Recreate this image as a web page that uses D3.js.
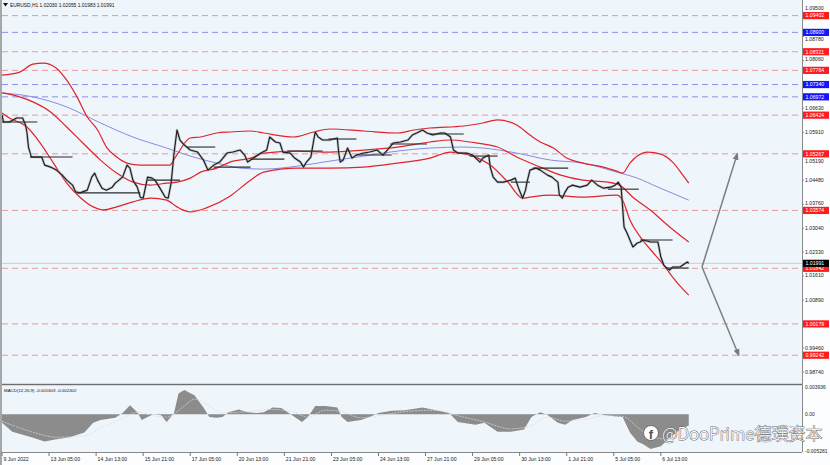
<!DOCTYPE html>
<html><head><meta charset="utf-8">
<script src="https://cdn.jsdelivr.net/npm/d3@7"></script>
<style>
html,body{margin:0;padding:0;background:#fff;}
svg{display:block;font-family:"Liberation Sans",Arial,sans-serif;}
</style></head><body>
<svg id="c" width="830" height="465"></svg>
<script>
// ---------------- DATA ----------------
const symbolTitle = "EURUSD,H1";
const lastOHLC = ["1.02030", "1.02055", "1.01983", "1.01991"];
const macdTitle = "MACD(12,26,9) -0.001603 -0.002402";

const timeTickBars = [0, 32, 64, 96, 128, 160, 192, 224, 256, 288, 320, 352, 384, 416, 448];
const timeTickLabels = ["9 Jun 2022", "13 Jun 05:00", "14 Jun 13:00", "15 Jun 21:00", "17 Jun 05:00",
  "20 Jun 13:00", "21 Jun 21:00", "23 Jun 05:00", "24 Jun 13:00", "27 Jun 21:00", "29 Jun 05:00",
  "30 Jun 13:00", "1 Jul 21:00", "5 Jul 05:00", "6 Jul 13:00"];

const priceTicks = [1.09500, 1.08780, 1.08060, 1.07340, 1.06630, 1.05910, 1.05190, 1.04480,
  1.03760, 1.03040, 1.02330, 1.01610, 1.00890, 1.00170, 0.99460, 0.98740];
const macdTicks = [0.003936, 0.00, -0.005281];
const macdTickLabels = ["0.003936", "0.00", "-0.005281"];

const redLevels = [1.09402, 1.08321, 1.07764, 1.06424, 1.05267, 1.03574, 1.01842, 1.00179, 0.99242];
const blueLevels = [1.08900, 1.07340, 1.06972];
const lastPrice = 1.01991;

// [bar index, close]
const closeSeries = [[0,1.0643],[1,1.0622],[5,1.0622],[10,1.0634],[14,1.0634],[16,1.0613],[17,1.0589],[18,1.0547],[20,1.0517],[24,1.0517],[27,1.0517],[29,1.0493],[33,1.0487],[37,1.0478],[41,1.0463],[44,1.0448],[48,1.0433],[50,1.0413],[53,1.0410],[58,1.0418],[61,1.0457],[63,1.0469],[65,1.0448],[68,1.0424],[71,1.0418],[75,1.0427],[77,1.0439],[82,1.0457],[85,1.0493],[87,1.0484],[89,1.0448],[92,1.0427],[94,1.0397],[96,1.0394],[99,1.0457],[102,1.0454],[104,1.0448],[107,1.0427],[111,1.0397],[113,1.0394],[115,1.0439],[117,1.0529],[119,1.0598],[121,1.0568],[124,1.0553],[128,1.0538],[133,1.0532],[137,1.0508],[140,1.0478],[144,1.0493],[148,1.0502],[153,1.0529],[157,1.0532],[162,1.0538],[165,1.0523],[167,1.0502],[171,1.0514],[176,1.0529],[180,1.0538],[182,1.0577],[186,1.0562],[189,1.0559],[191,1.0532],[196,1.0529],[199,1.0514],[203,1.0502],[205,1.0487],[207,1.0502],[210,1.0517],[212,1.0568],[213,1.0592],[215,1.0577],[218,1.0568],[223,1.0568],[228,1.0574],[229,1.0529],[230,1.0502],[232,1.0508],[235,1.0544],[238,1.0514],[241,1.0523],[246,1.0529],[250,1.0532],[255,1.0538],[259,1.0523],[262,1.0538],[266,1.0559],[271,1.0562],[276,1.0568],[279,1.0583],[282,1.0589],[286,1.0598],[289,1.0589],[293,1.0583],[298,1.0589],[301,1.0589],[305,1.0577],[307,1.0538],[310,1.0529],[316,1.0529],[320,1.0523],[325,1.0502],[327,1.0514],[331,1.0523],[332,1.0487],[334,1.0457],[337,1.0442],[341,1.0442],[346,1.0448],[349,1.0454],[351,1.0427],[354,1.0394],[356,1.0418],[357,1.0442],[359,1.0478],[363,1.0484],[366,1.0478],[371,1.0463],[374,1.0457],[378,1.0442],[379,1.0404],[381,1.0394],[383,1.0413],[385,1.0427],[388,1.0433],[393,1.0427],[398,1.0433],[401,1.0448],[405,1.0433],[409,1.0424],[414,1.0427],[417,1.0433],[419,1.0442],[421,1.0427],[422,1.0368],[423,1.0308],[425,1.0290],[427,1.0269],[429,1.0248],[432,1.0260],[434,1.0263],[436,1.0269],[441,1.0263],[444,1.0263],[446,1.0263],[448,1.0218],[450,1.0194],[452,1.0185],[454,1.0179],[456,1.0188],[461,1.0188],[463,1.0194],[466,1.0203],[467,1.01991]];

const bandUpper = [[0,1.0762],[12,1.0771],[21,1.0795],[28,1.0798],[37,1.0783],[44,1.0747],[51,1.0697],[58,1.0637],[65,1.0598],[71,1.0547],[78,1.0517],[85,1.0499],[94,1.0493],[107,1.0493],[114,1.0493],[118,1.0517],[128,1.0574],[135,1.0577],[146,1.0589],[155,1.0592],[169,1.0595],[178,1.0589],[198,1.0577],[212,1.0592],[223,1.0601],[246,1.0595],[269,1.0589],[280,1.0598],[291,1.0604],[314,1.0610],[327,1.0619],[337,1.0628],[350,1.0613],[359,1.0583],[366,1.0562],[375,1.0544],[384,1.0514],[395,1.0499],[409,1.0487],[418,1.0475],[422,1.0469],[427,1.0499],[432,1.0520],[439,1.0532],[448,1.0526],[456,1.0502],[463,1.0463],[467,1.0439]];

const bandMiddle = [[0,1.0709],[12,1.0697],[21,1.0682],[33,1.0652],[44,1.0607],[55,1.0559],[67,1.0508],[78,1.0469],[89,1.0442],[101,1.0433],[112,1.0439],[119,1.0442],[128,1.0454],[135,1.0472],[146,1.0484],[155,1.0502],[169,1.0514],[178,1.0529],[201,1.0535],[223,1.0532],[246,1.0538],[269,1.0547],[291,1.0562],[305,1.0568],[318,1.0562],[337,1.0547],[350,1.0517],[366,1.0487],[380,1.0463],[395,1.0448],[412,1.0442],[420,1.0433],[429,1.0397],[441,1.0358],[454,1.0308],[467,1.0263]];

const bandLower = [[0,1.0649],[5,1.0634],[17,1.0607],[26,1.0559],[35,1.0499],[44,1.0439],[53,1.0397],[62,1.0368],[69,1.0359],[78,1.0368],[89,1.0383],[101,1.0394],[112,1.0388],[119,1.0368],[128,1.0353],[139,1.0365],[155,1.0400],[169,1.0448],[178,1.0472],[201,1.0484],[223,1.0484],[246,1.0487],[269,1.0499],[291,1.0514],[305,1.0532],[318,1.0523],[332,1.0493],[344,1.0442],[354,1.0394],[359,1.0397],[373,1.0403],[395,1.0397],[418,1.0403],[422,1.0388],[427,1.0329],[434,1.0278],[443,1.0230],[450,1.0194],[456,1.0158],[463,1.0122],[467,1.0104]];

const slowMA = [[0,1.0709],[21,1.0697],[44,1.0667],[67,1.0619],[89,1.0577],[112,1.0544],[128,1.0520],[146,1.0499],[162,1.0484],[178,1.0481],[201,1.0490],[223,1.0505],[246,1.0520],[269,1.0535],[291,1.0544],[314,1.0547],[327,1.0544],[350,1.0529],[373,1.0508],[395,1.0499],[418,1.0472],[432,1.0454],[446,1.0427],[459,1.0403],[467,1.0388]];

// daily reference segments: [startBar, endBar, price]
const daySegments = [[0,24,1.0622],[19,48,1.0517],[51,94,1.0410],[99,121,1.0448],[126,145,1.0547],[144,169,1.0487],[169,192,1.0511],[194,218,1.0535],[222,241,1.0571],[241,265,1.0523],[264,289,1.0556],[291,314,1.0586],[318,337,1.0520],[346,359,1.0442],[361,385,1.0484],[412,433,1.0421],[434,456,1.0269],[452,467,1.0185]];

// projection arrows: [fromBar, fromPrice, toBar, toPrice]
const projections = [[476,1.0188,500,1.05267],[476,1.0188,501,0.99242]];

// MACD main (histogram) [bar, value]
const macdMain = [[0,-0.0012],[7,-0.0025],[20,-0.0033],[29,-0.0039],[37,-0.0036],[46,-0.0033],[56,-0.0026],[62,-0.0012],[67,-0.0008],[77,-0.0005],[82,0.0002],[87,0.0013],[92,0.0003],[95,-0.0008],[99,-0.0004],[103,0.0000],[108,-0.0001],[112,-0.0011],[117,0.0002],[120,0.0030],[124,0.0035],[131,0.0027],[137,0.0010],[141,-0.0004],[146,-0.0005],[150,-0.0004],[154,0.0003],[161,0.0007],[167,0.0003],[173,0.0002],[178,0.0003],[184,0.0010],[190,0.0009],[197,-0.0001],[204,-0.0011],[208,-0.0004],[213,0.0012],[220,0.0012],[228,0.0010],[231,-0.0004],[235,-0.0011],[244,-0.0008],[250,-0.0004],[256,0.0002],[265,0.0005],[274,0.0006],[286,0.0010],[295,0.0006],[304,0.0002],[310,-0.0011],[322,-0.0015],[328,-0.0012],[337,-0.0025],[346,-0.0025],[355,-0.0022],[360,-0.0004],[366,0.0003],[371,-0.0001],[378,-0.0012],[383,-0.0015],[388,-0.0008],[397,-0.0004],[403,0.0002],[409,-0.0001],[418,-0.0003],[422,-0.0004],[427,-0.0026],[432,-0.0039],[436,-0.0043],[441,-0.0050],[448,-0.0046],[454,-0.0034],[461,-0.0022],[467,-0.0016]];

// MACD signal [bar, value]
const macdSignal = [[0,-0.0010],[20,-0.0025],[37,-0.0033],[56,-0.0031],[67,-0.0020],[82,-0.0006],[92,0.0003],[103,-0.0002],[112,-0.0004],[124,0.0012],[131,0.0022],[141,0.0012],[150,0.0002],[167,0.0004],[184,0.0007],[197,0.0004],[208,-0.0004],[220,0.0006],[231,0.0004],[244,-0.0005],[256,-0.0002],[274,0.0004],[295,0.0006],[310,-0.0002],[328,-0.0011],[346,-0.0021],[360,-0.0016],[371,-0.0004],[383,-0.0010],[397,-0.0007],[409,-0.0002],[422,-0.0003],[432,-0.0018],[441,-0.0032],[454,-0.0036],[467,-0.0024]];

const watermarkText = "@DooPrime德璞资本";

// ---------------- DRAW ----------------
const svg = d3.select("#c");
const plotL = 2, plotR = 802, mainT = 0, mainB = 383, macdT = 386, macdB = 452;

const x = d3.scaleLinear().domain([0, 544]).range([plotL, plotR]);
const y = d3.scaleLinear().domain([0.98740, 1.02330]).range([372, 252]);
const ym = d3.scaleLinear().domain([-0.005281, 0.003936]).range([451, 387]);

svg.append("rect").attr("width", 830).attr("height", 465).attr("fill", "#fbfdff");
svg.append("rect").attr("x", plotL).attr("y", mainT).attr("width", plotR - plotL).attr("height", mainB - mainT).attr("fill", "#eef5fb");
svg.append("rect").attr("x", plotL).attr("y", macdT).attr("width", plotR - plotL).attr("height", macdB - macdT).attr("fill", "#eef5fb");

const defs = svg.append("defs");
defs.append("clipPath").attr("id", "clipMain").append("rect")
  .attr("x", plotL).attr("y", mainT).attr("width", plotR - plotL).attr("height", mainB - mainT);
defs.append("clipPath").attr("id", "clipMacd").append("rect")
  .attr("x", plotL).attr("y", macdT).attr("width", plotR - plotL).attr("height", macdB - macdT);
defs.append("marker").attr("id", "arrowHead").attr("viewBox", "0 0 10 10").attr("refX", 8).attr("refY", 5)
  .attr("markerWidth", 5).attr("markerHeight", 5).attr("orient", "auto")
  .append("path").attr("d", "M0,1 L10,5 L0,9 Z").attr("fill", "#7a7a7a");

const main = svg.append("g").attr("clip-path", "url(#clipMain)");

// horizontal levels
main.selectAll("line.red").data(redLevels).join("line")
  .attr("x1", plotL).attr("x2", plotR).attr("y1", d => y(d)).attr("y2", d => y(d))
  .attr("stroke", "#e79a9a").attr("stroke-width", 1).attr("stroke-dasharray", "6,4");
main.selectAll("line.blue").data(blueLevels).join("line")
  .attr("x1", plotL).attr("x2", plotR).attr("y1", d => y(d)).attr("y2", d => y(d))
  .attr("stroke", "#8f8fe6").attr("stroke-width", 1).attr("stroke-dasharray", "6,4");
main.append("line").attr("x1", plotL).attr("x2", plotR).attr("y1", y(lastPrice)).attr("y2", y(lastPrice))
  .attr("stroke", "#c4c4c4").attr("stroke-width", 0.8);

const line = d3.line().x(d => x(d[0])).y(d => y(d[1]));
const smooth = d3.line().x(d => x(d[0])).y(d => y(d[1])).curve(d3.curveMonotoneX);

main.append("path").attr("d", smooth(slowMA)).attr("fill", "none").attr("stroke", "#8a8ae0").attr("stroke-width", 1);
[bandUpper, bandMiddle, bandLower].forEach(b => {
  main.append("path").attr("d", smooth(b)).attr("fill", "none").attr("stroke", "#e0242a").attr("stroke-width", 1.2);
});

// price
main.append("path").attr("d", line(closeSeries)).attr("fill", "none")
  .attr("stroke", "#9a9a9a").attr("stroke-width", 2.6).attr("stroke-opacity", 0.5).attr("stroke-linejoin", "round");
main.append("path").attr("d", line(closeSeries)).attr("fill", "none")
  .attr("stroke", "#1c1c1c").attr("stroke-width", 1.15).attr("stroke-linejoin", "round");

// day segments
main.selectAll("line.seg").data(daySegments).join("line")
  .attr("x1", d => x(d[0])).attr("x2", d => x(d[1])).attr("y1", d => y(d[2])).attr("y2", d => y(d[2]))
  .attr("stroke", "#2a2a2a").attr("stroke-width", 1.1);

// projections
main.selectAll("line.proj").data(projections).join("line")
  .attr("x1", d => x(d[0])).attr("y1", d => y(d[1])).attr("x2", d => x(d[2])).attr("y2", d => y(d[3]))
  .attr("stroke", "#7f7f7f").attr("stroke-width", 1.5).attr("marker-end", "url(#arrowHead)");

// header
svg.append("path").attr("d", "M3,3 L8,3 L5.5,6.5 Z").attr("fill", "#111");
svg.append("text").attr("x", 10).attr("y", 7).attr("font-size", 4.9).attr("fill", "#111")
  .text(symbolTitle + "  " + lastOHLC.join(" "));

// MACD
const macdG = svg.append("g").attr("clip-path", "url(#clipMacd)");
const area = d3.area().x(d => x(d[0])).y0(ym(0)).y1(d => ym(d[1]));
macdG.append("path").attr("d", area(macdMain)).attr("fill", "#8c8c8c");
macdG.append("path").attr("d", d3.line().x(d => x(d[0])).y(d => ym(d[1])).curve(d3.curveMonotoneX)(macdSignal))
  .attr("fill", "none").attr("stroke", "#dcdcdc").attr("stroke-width", 0.7).attr("stroke-dasharray", "2,1");
svg.append("text").attr("x", 4).attr("y", 392).attr("font-size", 4.4).attr("fill", "#111").text(macdTitle);

// frame lines
svg.append("line").attr("x1", plotL).attr("x2", plotR).attr("y1", 384.5).attr("y2", 384.5).attr("stroke", "#6e6e6e").attr("stroke-width", 1.6);
svg.append("line").attr("x1", plotR + 0.5).attr("x2", plotR + 0.5).attr("y1", 0).attr("y2", macdB).attr("stroke", "#8a8a8a");
svg.append("line").attr("x1", plotL).attr("x2", plotR).attr("y1", macdB + 0.5).attr("y2", macdB + 0.5).attr("stroke", "#8a8a8a");
svg.append("line").attr("x1", 1).attr("x2", 1).attr("y1", 0).attr("y2", 465).attr("stroke", "#8a8a8a").attr("stroke-width", 1.5);

// price axis (tick labels that sit under a level tag are hidden or nudged clear of it, as in the terminal)
const allLevels = redLevels.concat(blueLevels, [lastPrice]);
const axisG = svg.append("g");
const tickPos = priceTicks.map(v => {
  const py = y(v);
  let best = null;
  allLevels.forEach(l => { const d = py - y(l); if (Math.abs(d) < 9.5 && (best === null || Math.abs(d) < Math.abs(best))) best = d; });
  if (best === null) return { v, py, show: true };
  if (Math.abs(best) < 1.5) return { v, py, show: false };
  return { v, py: py - best + Math.sign(best) * 7.2, show: true };
});
axisG.selectAll("text.pt").data(tickPos.filter(d => d.show)).join("text")
  .attr("x", 805).attr("y", d => d.py).attr("dy", "0.35em").attr("font-size", 5.2).attr("fill", "#222")
  .text(d => d3.format(".5f")(d.v));
axisG.selectAll("line.pt").data(priceTicks).join("line")
  .attr("x1", plotR).attr("x2", plotR + 2).attr("y1", d => y(d)).attr("y2", d => y(d)).attr("stroke", "#888");

function levelLabel(v, fill) {
  const g = axisG.append("g").attr("transform", `translate(803,${y(v)})`);
  g.append("rect").attr("x", 0).attr("y", -3.6).attr("width", 26).attr("height", 7.2).attr("fill", fill);
  g.append("text").attr("x", 2.5).attr("y", 0).attr("dy", "0.35em").attr("font-size", 5.2).attr("fill", "#fff")
    .text(d3.format(".5f")(v));
}
redLevels.forEach(v => levelLabel(v, "#ff1c1c"));
blueLevels.forEach(v => levelLabel(v, "#1414ff"));
levelLabel(lastPrice, "#000");

// macd axis
axisG.selectAll("text.mt").data(macdTicks).join("text")
  .attr("x", 805).attr("y", d => ym(d)).attr("dy", "0.35em").attr("font-size", 5).attr("fill", "#222")
  .text((d, i) => macdTickLabels[i]);

// time axis
const tG = svg.append("g");
tG.selectAll("line").data(timeTickBars).join("line")
  .attr("x1", d => x(d)).attr("x2", d => x(d)).attr("y1", macdB).attr("y2", macdB + 4).attr("stroke", "#777");
tG.selectAll("text").data(timeTickBars).join("text")
  .attr("x", d => x(d) + 1.5).attr("y", 460.5).attr("font-size", 5.1).attr("fill", "#222")
  .text((d, i) => timeTickLabels[i]);

// watermark
const wm = svg.append("g");
wm.append("circle").attr("cx", 651).attr("cy", 433).attr("r", 7.5).attr("fill", "#fff").attr("stroke", "#666").attr("stroke-width", 0.9);
wm.append("text").attr("x", 651).attr("y", 438.5).attr("text-anchor", "middle").attr("font-size", 13)
  .attr("font-family", "Liberation Sans, Arial, sans-serif").attr("font-weight", "bold").attr("fill", "#555").text("f");
wm.append("text").attr("x", 662).attr("y", 439.5).attr("font-size", 17)
  .attr("font-family", "'Noto Sans CJK SC','Noto Sans',sans-serif").attr("font-weight", 300)
  .attr("fill", "#fff").attr("stroke", "#6a6a6a").attr("stroke-width", 0.9).attr("paint-order", "stroke")
  .text(watermarkText);
</script>
</body></html>
